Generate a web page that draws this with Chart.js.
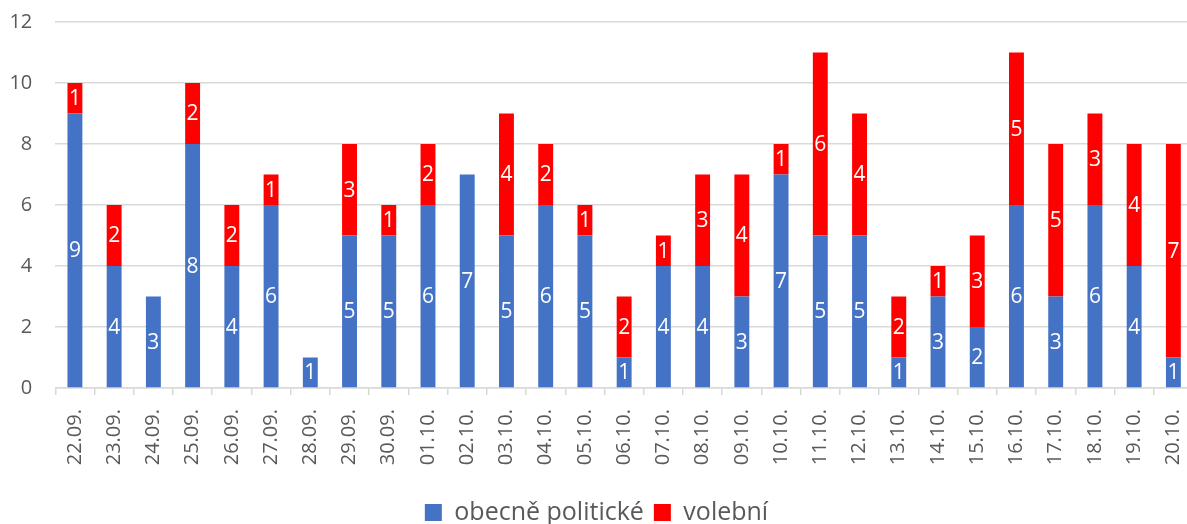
<!DOCTYPE html>
<html>
<head>
<meta charset="utf-8">
<script src="https://cdn.jsdelivr.net/npm/chart.js@4/dist/chart.umd.min.js"></script>
<style>
  html, body { margin: 0; padding: 0; overflow: hidden; background: #fff; }
  #wrap { width: 1200px; height: 535px; }
</style>
</head>
<body>
<div id="wrap"><canvas id="myChart" width="1200" height="535"></canvas></div>
<script>
// dny
const dates = ['22.09.', '23.09.', '24.09.', '25.09.', '26.09.', '27.09.', '28.09.', '29.09.', '30.09.',
  '01.10.', '02.10.', '03.10.', '04.10.', '05.10.', '06.10.', '07.10.', '08.10.', '09.10.', '10.10.',
  '11.10.', '12.10.', '13.10.', '14.10.', '15.10.', '16.10.', '17.10.', '18.10.', '19.10.', '20.10.'];

// obecně politické
const politicke = [9, 4, 3, 8, 4, 6, 1, 5, 5, 6, 7, 5, 6, 5, 1, 4, 4, 3, 7, 5, 5, 1, 3, 2, 6, 3, 6, 4, 1];

// volební
const volebni = [1, 2, 0, 2, 2, 1, 0, 3, 1, 2, 0, 4, 2, 1, 2, 1, 3, 4, 1, 6, 4, 2, 1, 3, 5, 5, 3, 4, 7];

const yTicks = [0, 2, 4, 6, 8, 10, 12];

const textColor = '#595959';
const gridColor = '#d9d9d9';

Chart.defaults.font.family = "'Open Sans', sans-serif";
Chart.defaults.color = textColor;

// hodnoty uvnitř sloupců
const valueLabels = {
  id: 'valueLabels',
  afterDatasetsDraw(chart) {
    const ctx = chart.ctx;
    ctx.save();
    ctx.fillStyle = '#ffffff';
    ctx.font = "21px 'Open Sans', sans-serif";
    ctx.textAlign = 'center';
    ctx.textBaseline = 'middle';
    chart.data.datasets.forEach((ds, i) => {
      const meta = chart.getDatasetMeta(i);
      meta.data.forEach((bar, j) => {
        const v = ds.data[j];
        if (!v) return;
        ctx.fillText(String(v), bar.x, (bar.y + bar.base) / 2 + 1);
      });
    });
    ctx.restore();
  }
};

const ctx = document.getElementById('myChart').getContext('2d');

new Chart(ctx, {
  type: 'bar',
  data: {
    labels: dates,
    datasets: [{
      label: 'obecně politické',
      data: politicke,
      backgroundColor: '#4472C4',
      barPercentage: 0.38,
      categoryPercentage: 1,
    }, {
      label: 'volební',
      data: volebni,
      backgroundColor: '#FF0000',
      barPercentage: 0.38,
      categoryPercentage: 1,
    }],
  },
  options: {
    responsive: false,
    animation: false,
    layout: { padding: { top: 22, right: 7, left: 0, bottom: 0 } },
    scales: {
      x: {
        stacked: true,
        grid: {
          drawOnChartArea: false,
          drawTicks: true,
          tickLength: 7,
          color: gridColor,
          lineWidth: 1.5,
        },
        border: { display: true, color: gridColor, width: 1.5 },
        ticks: {
          minRotation: 90,
          maxRotation: 90,
          autoSkip: false,
          padding: 14,
          font: { size: 20 },
          color: textColor,
        },
        afterFit: (scale) => {
          scale.height = 102;
          scale.paddingLeft = 0;
          scale.paddingRight = 0;
        },
      },
      y: {
        stacked: true,
        min: 0,
        max: 12,
        afterBuildTicks: (scale) => { scale.ticks = yTicks.map((v) => ({ value: v })); },
        grid: { color: gridColor, lineWidth: 1.5, drawTicks: false },
        border: { display: false },
        ticks: {
          padding: 23,
          font: { size: 20 },
          color: textColor,
        },
        afterFit: (scale) => {
          scale.width = 55.3;
          scale.paddingTop = 0;
          scale.paddingBottom = 0;
        },
      },
    },
    plugins: {
      legend: {
        position: 'bottom',
        labels: {
          boxWidth: 17,
          boxHeight: 17,
          padding: 10,
          font: { size: 25 },
          color: textColor,
        },
      },
      tooltip: { enabled: false },
    },
  },
  plugins: [valueLabels],
});
</script>
</body>
</html>
